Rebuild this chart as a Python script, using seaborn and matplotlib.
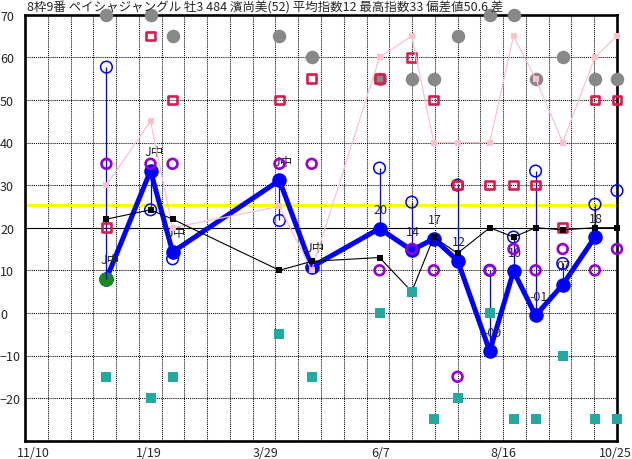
import numpy as np
import pandas as pd
import matplotlib
matplotlib.use("Agg")
import matplotlib.pyplot as plt
import matplotlib.transforms as mtransforms
import seaborn as sns

title = "8枠9番 ペイシャジャングル 牡3 484 濱尚美(52) 平均指数12 最高指数33 偏差値50.6 差"

# race dates as days after 11/10
race_day = [48, 74, 87, 150, 169, 209, 228, 241, 255, 274, 288, 301, 317, 336, 349]
index_val = [8, 33.4, 14.3, 31.1, 10.8, 19.8, 14.7, 17.4, 12.3, -9, 9.8, -0.6, 6.6, 17.8, np.nan]
index_label = ["J中", "J中", "J中", "J中", "J中", "20", "14", "17", "12", "-09", "10", "-01", "07", "18", ""]
stem_top = [8, 33.4, 14.3, 31.1, np.nan, 19.8, 14.7, np.nan, 12.3, -9, 9.8, -0.6, 6.6, 17.8, 36]
open_val = [57.7, 24.2, 12.7, 21.7, np.nan, 34, 26, np.nan, 30, 10, 17.8, 33.3, 11.6, 25.5, 28.7]
purple_val = [35, 35, 35, 35, 35, 10, 15, 10, -15, 10, 15, 10, 15, 10, 15]
grey_val = [70, 70, 65, 65, 60, 55, 55, 55, 65, 70, 70, 55, 60, 55, 55]
red_val = [20, 65, 50, 50, 55, 55, 60, 50, 30, 30, 30, 30, 20, 50, 50]
pink_val = [30, 45, 20, 25, 10, 60, 65, 40, 40, 40, 65, 55, 40, 60, 65]
black_val = [22, 24.2, 22, 10, 12.1, 13, 5, 17.8, 14, 20, 17.8, 20, 19.5, 20, 20]
teal_val = [-15, -20, -15, -5, -15, 0, 5, -25, -20, 0, -25, -25, -10, -25, -25]

tick_day = [0, 70, 139, 209, 279, 349]
tick_label = ["11/10", "1/19", "3/29", "6/7", "8/16", "10/25"]
avg_level = 25.4
base_level = 20

df = pd.DataFrame({
    "day": race_day, "index": index_val, "stem": stem_top, "open": open_val,
    "purple": purple_val, "grey": grey_val, "red": red_val,
    "pink": pink_val, "black": black_val, "teal": teal_val,
})

sns.set_style("white")
plt.rcParams["font.family"] = ["Noto Sans CJK JP", "DejaVu Sans"]

fig = plt.figure(figsize=(6.32, 4.60), dpi=100)
ax = fig.add_axes([25 / 632, 18.3 / 460, 592 / 632, 426 / 460])
ax.set_xlim(0, 349)
ax.set_ylim(-30, 70)

# dotted grid, solid line at 20, yellow average line
dots = (0, (1, 1))
ax.hlines([-20, -10, 0, 10, 30, 40, 50, 60], 0, 349, colors="black", lw=0.75, linestyles=[dots], zorder=1)
ax.vlines(np.linspace(0, 349, 27)[1:-1], -30, 70, colors="black", lw=0.75, linestyles=[dots], zorder=1)
ax.axhline(base_level, color="black", lw=0.8, zorder=1)
ax.axhline(avg_level, color="#ffff00", lw=2.4, zorder=1.5)

# main index line
sns.lineplot(data=df, x="day", y="index", color="#0000ff", lw=3.6, ax=ax, zorder=3)
sns.scatterplot(data=df, x="day", y="index", color="#0000ff", s=110, linewidth=0, ax=ax, zorder=3)
sns.scatterplot(data=df.iloc[:1], x="day", y="index", color="#1a8a1a", s=110, linewidth=0, ax=ax, zorder=3.1)

for d, v, t in zip(race_day, index_val, index_label):
    if t:
        ax.annotate(t, (d, v), xytext=(-6, 19), textcoords="offset pixels",
                    ha="left", va="center", fontsize=9, zorder=3.2)

# stems to the open circles
st = df.dropna(subset=["stem", "open"])
ax.vlines(st["day"], st["stem"], st["open"], colors="#0000ff", lw=0.9, zorder=3.3)
sns.scatterplot(data=df, x="day", y="open", marker="o", s=70, facecolors="none",
                edgecolor="#0000ff", linewidth=1.1, ax=ax, zorder=3.4, clip_on=False)

sns.scatterplot(data=df, x="day", y="purple", marker="o", s=50, facecolors="none",
                edgecolor="#9400d3", linewidth=1.9, ax=ax, zorder=3.5, clip_on=False)
sns.scatterplot(data=df, x="day", y="grey", marker="o", s=95, color="#888888",
                linewidth=0, ax=ax, zorder=3.6, clip_on=False)
sns.scatterplot(data=df, x="day", y="red", marker="s", s=40, facecolors="none",
                edgecolor="#d81b4a", linewidth=1.9, ax=ax, zorder=3.7, clip_on=False)

sns.lineplot(data=df, x="day", y="pink", color="#ffc0cb", lw=0.9, ax=ax, zorder=3.8)
sns.scatterplot(data=df, x="day", y="pink", marker="s", s=18, color="#ffc0cb",
                linewidth=0, ax=ax, zorder=3.8, clip_on=False)
sns.lineplot(data=df, x="day", y="black", color="black", lw=0.8, ax=ax, zorder=3.9)
sns.scatterplot(data=df, x="day", y="black", marker="s", s=18, color="black",
                linewidth=0, ax=ax, zorder=3.9, clip_on=False)
sns.scatterplot(data=df, x="day", y="teal", marker="s", s=42, color="#22aaa2",
                linewidth=0, ax=ax, zorder=4, clip_on=False)

ax.set_xlabel("")
ax.set_ylabel("")
ax.set_yticks(range(-20, 71, 10))
ax.set_xticks(tick_day)
ax.set_xticklabels(tick_label)
ax.tick_params(axis="y", length=0, pad=18, labelsize=9)
ax.tick_params(axis="x", length=0, pad=4, labelsize=9)
for lbl in ax.get_yticklabels():
    lbl.set_ha("left")
xl = ax.get_xticklabels()
for lbl in xl[:-1]:
    lbl.set_ha("left")
    lbl.set_transform(lbl.get_transform() + mtransforms.ScaledTranslation(-8 / 100, 0, fig.dpi_scale_trans))
xl[-1].set_ha("right")
xl[-1].set_transform(xl[-1].get_transform() + mtransforms.ScaledTranslation(15 / 100, 0, fig.dpi_scale_trans))

for sp in ax.spines.values():
    sp.set_color("black")
    sp.set_linewidth(1.9)
    sp.set_zorder(2)

fig.text(27 / 632, 1 - 8 / 460, title, ha="left", va="center", fontsize=9, zorder=10)

fig.savefig("out.png", dpi=100)
plt.close(fig)
